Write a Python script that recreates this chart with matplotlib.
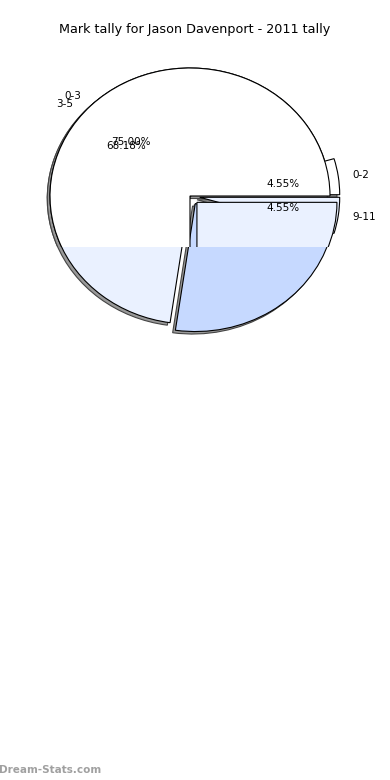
import matplotlib
matplotlib.use('Agg')
import matplotlib.pyplot as plt
from matplotlib.patches import Rectangle

title = "Mark tally for Jason Davenport - 2011 tally"

# tally drawn underneath (whole pie)
labels_b = ['0-2', '3-5', '', '9-11']
values_b = [1, 15, 5, 1]
explode_b = [0.07, 0, 0.07, 0.07]
colors_b = ['white', '#eaf1ff', '#c6d9ff', '#eaf1ff']

# tally drawn on top (cut off below)
labels_a = ['0-3', '']
values_a = [3, 1]
explode_a = [0, 0.07]
colors_a = ['white', '#eaf1ff']

W, H = 390, 780
cx, cy, rx, ry = 190, 196, 140, 128

fig = plt.figure(figsize=(W / 100, H / 100), dpi=100)
ax = fig.add_axes([0, 0, 1, 1])

wprops = {'edgecolor': 'black', 'linewidth': 0.8}
tprops = {'fontsize': 7.5}
sprops = {'ox': -0.014, 'oy': -0.014, 'facecolor': '#999999',
          'edgecolor': '#444444', 'linewidth': 0.8, 'alpha': 1}

w, t, at = ax.pie(values_b, labels=labels_b, explode=explode_b, colors=colors_b,
                  autopct='%.2f%%', shadow=sprops, wedgeprops=wprops, textprops=tprops)
for lab, a in zip(labels_b, at):
    if lab == '':
        a.set_text('')

n = len(ax.patches)
w, t, at = ax.pie(values_a, labels=labels_a, explode=explode_a, colors=colors_a,
                  autopct='%.2f%%', shadow=sprops, wedgeprops=wprops, textprops=tprops)
for lab, a in zip(labels_a, at):
    if lab == '':
        a.set_text('')

# the top pie is cut off at the bottom edge of its area
clip = Rectangle((-5, (cy - 247) / ry), 10, 10, transform=ax.transData)
for p in ax.patches[n:]:
    p.set_clip_on(True)
    p.set_clip_path(clip)

ax.set_aspect('auto')
ax.set_xlim(-cx / rx, (W - cx) / rx)
ax.set_ylim(-(H - cy) / ry, cy / ry)
ax.axis('off')

fig.text(195 / W, 1 - 30 / H, title, ha='center', va='center', fontsize=9.2)
fig.text(-0.003, 1 - 770 / H, 'Dream-Stats.com', ha='left', va='center',
         fontsize=7.5, fontweight='bold', color='#a0a0a0')

fig.savefig('out.png', dpi=100)
